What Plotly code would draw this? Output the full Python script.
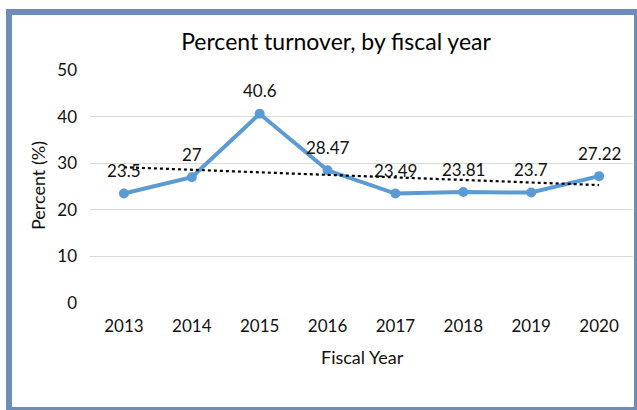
import numpy as np
import plotly.graph_objects as go

years = [2013, 2014, 2015, 2016, 2017, 2018, 2019, 2020]
turnover = [23.5, 27, 40.6, 28.47, 23.49, 23.81, 23.7, 27.22]
labels = ["23.5", "27", "40.6", "28.47", "23.49", "23.81", "23.7", "27.22"]
y_ticks = [0, 10, 20, 30, 40, 50]

# linear trendline (as Excel computes it)
idx = np.arange(len(years))
slope, intercept = np.polyfit(idx, turnover, 1)
trend = (slope * idx + intercept).tolist()

FONT = "Lato"
TXT = "#111111"
W, H = 637, 410
L, R, T, B = 90, 4, 70, 107
pw, ph = W - L - R, H - T - B

def px_x(x):
    return (x - L) / pw

def px_y(y):
    return (H - B - y) / ph

fig = go.Figure()
fig.add_trace(go.Scatter(
    x=years, y=turnover, mode="lines+markers",
    line=dict(color="#5B9BD5", width=4),
    marker=dict(color="#5B9BD5", size=10),
    showlegend=False, hoverinfo="skip"))
fig.add_trace(go.Scatter(
    x=[years[0], years[-1]], y=[trend[0], trend[-1]], mode="lines",
    line=dict(color="#000000", width=2.2, dash="dot"),
    showlegend=False, hoverinfo="skip"))

annotations = []
for xv, yv, t in zip(years, turnover, labels):
    annotations.append(dict(x=xv, y=yv, text=t, showarrow=False, yshift=23,
                            xanchor="center", yanchor="middle",
                            font=dict(family=FONT, size=17, color=TXT)))
annotations.append(dict(xref="paper", yref="paper", x=px_x(38), y=px_y(186),
                        text="Percent (%)", textangle=-90, showarrow=False,
                        xanchor="center", yanchor="middle",
                        font=dict(family=FONT, size=18, color=TXT)))
annotations.append(dict(xref="paper", yref="paper", x=px_x(362), y=px_y(357),
                        text="Fiscal Year", showarrow=False,
                        xanchor="center", yanchor="middle",
                        font=dict(family=FONT, size=18, color=TXT)))

fig.update_layout(
    width=W, height=H,
    margin=dict(l=L, r=R, t=T, b=B, pad=0),
    paper_bgcolor="white", plot_bgcolor="white",
    title=dict(text="Percent turnover, by fiscal year", x=336 / W, y=1 - 42 / H,
               xanchor="center", yanchor="middle",
               font=dict(family=FONT, size=23, color="#000000")),
    xaxis=dict(range=[2012.5, 2020.5], tickvals=years, ticktext=[str(y) for y in years],
               showgrid=False, zeroline=False, showline=False, ticks="",
               ticklabelstandoff=11,
               tickfont=dict(family=FONT, size=17, color=TXT)),
    yaxis=dict(range=[0, 50], tickvals=y_ticks, showgrid=True, gridcolor="#D9D9D9",
               gridwidth=1, zeroline=False, showline=False, ticks="",
               ticklabelstandoff=12,
               tickfont=dict(family=FONT, size=17, color=TXT)),
    annotations=annotations,
    shapes=[dict(type="rect", xref="paper", yref="paper",
                 x0=px_x(9), x1=px_x(637), y0=px_y(410), y1=px_y(12),
                 line=dict(color="#6E8CB9", width=6), fillcolor="rgba(0,0,0,0)",
                 layer="above")],
)

fig.write_html("out.html")
